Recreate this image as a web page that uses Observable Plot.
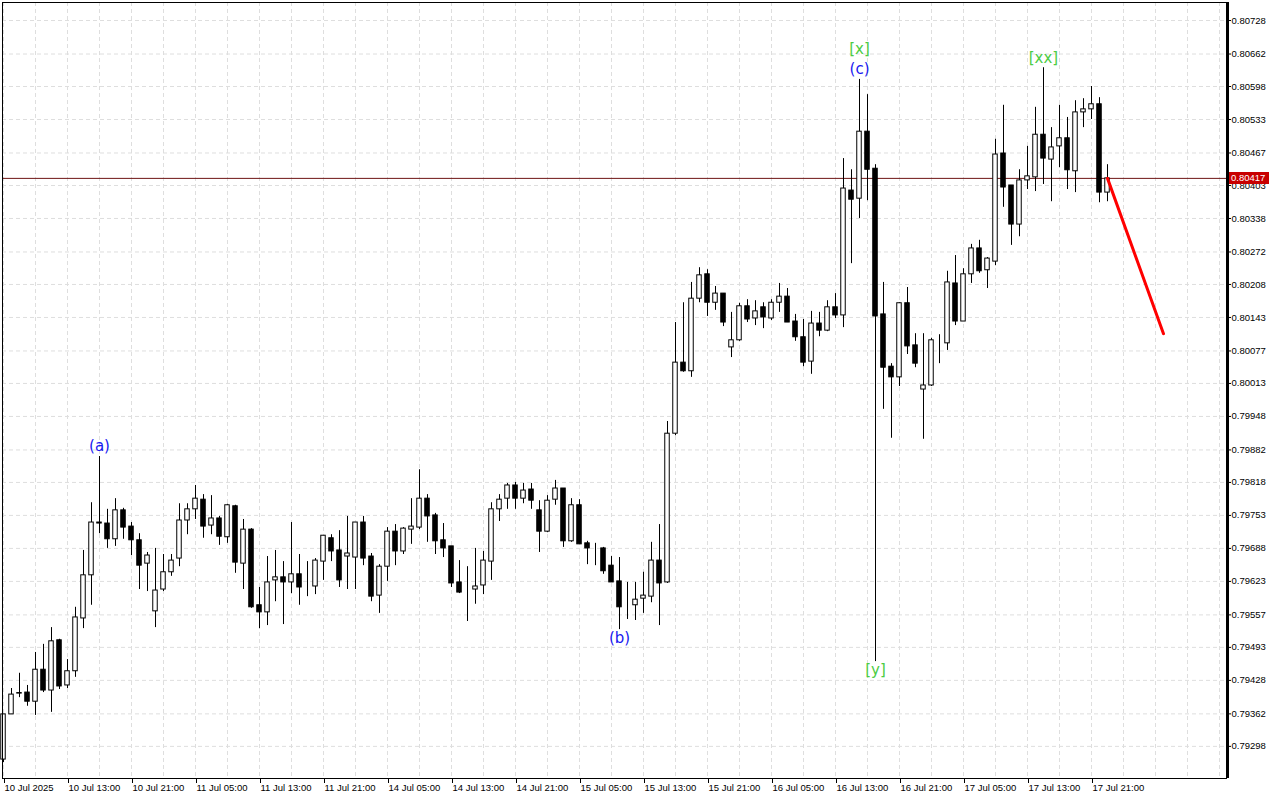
<!DOCTYPE html>
<html>
<head>
<meta charset="utf-8">
<script src="https://cdn.jsdelivr.net/npm/d3@7"></script>
<script src="https://cdn.jsdelivr.net/npm/@observablehq/plot@0.6"></script>
<style>
  html, body { margin: 0; padding: 0; background: #ffffff; }
  #chart { width: 1280px; height: 800px; overflow: hidden; }
</style>
</head>
<body>
<div id="chart"></div>
<script>
// ---------- DATA (hourly bars) ----------
const open = [
0.79272,0.79361,0.79403,0.79404,0.79386,0.79449,0.79408,0.79507,0.79418,0.79446,
0.79550,0.79635,0.79739,0.79737,0.79706,0.79763,0.79731,0.79704,0.79658,0.79564,
0.79607,0.79641,0.79668,0.79743,0.79765,0.79784,0.79733,0.79747,0.79710,0.79771,
0.79658,0.79725,0.79576,0.79562,0.79625,0.79631,0.79621,0.79637,0.79613,0.79613,
0.79662,0.79708,0.79684,0.79672,0.79670,0.79739,0.79672,0.79595,0.79652,0.79721,
0.79682,0.79725,0.79729,0.79786,0.79753,0.79704,0.79692,0.79621,0.79603,0.79607,
0.79615,0.79662,0.79765,0.79786,0.79812,0.79786,0.79804,0.79763,0.79721,0.79784,
0.79806,0.79702,0.79773,0.79698,0.79688,0.79688,0.79654,0.79623,0.79576,0.79576,
0.79589,0.79593,0.79664,0.79621,0.79914,0.80054,0.80037,0.80180,0.80228,0.80172,
0.80190,0.80084,0.80098,0.80165,0.80141,0.80163,0.80141,0.80172,0.80184,0.80135,
0.80104,0.80056,0.80131,0.80117,0.80163,0.80147,0.80393,0.80377,0.80509,0.80436,
0.80149,0.80046,0.80025,0.80171,0.80088,0.80001,0.80009,0.80090,0.80092,0.80210,
0.80135,0.80228,0.80279,0.80236,0.80253,0.80466,0.80403,0.80326,0.80413,0.80419,
0.80503,0.80454,0.80480,0.80496,0.80431,0.80547,0.80553,0.80563,0.80389
];
const high = [
0.79361,0.79412,0.79442,0.79418,0.79483,0.79499,0.79532,0.79509,0.79469,0.79572,
0.79684,0.79778,0.79869,0.79765,0.79786,0.79767,0.79739,0.79717,0.79680,0.79688,
0.79676,0.79676,0.79776,0.79776,0.79812,0.79794,0.79792,0.79751,0.79775,0.79773,
0.79745,0.79727,0.79611,0.79672,0.79684,0.79662,0.79739,0.79676,0.79662,0.79668,
0.79713,0.79715,0.79723,0.79751,0.79739,0.79751,0.79678,0.79656,0.79729,0.79735,
0.79729,0.79786,0.79843,0.79794,0.79757,0.79737,0.79692,0.79664,0.79652,0.79688,
0.79682,0.79778,0.79794,0.79816,0.79818,0.79816,0.79816,0.79782,0.79792,0.79822,
0.79806,0.79786,0.79784,0.79702,0.79698,0.79690,0.79672,0.79670,0.79621,0.79621,
0.79641,0.79700,0.79735,0.79938,0.80133,0.80172,0.80212,0.80241,0.80237,0.80204,
0.80190,0.80153,0.80171,0.80178,0.80176,0.80172,0.80178,0.80210,0.80200,0.80149,
0.80139,0.80155,0.80153,0.80176,0.80190,0.80456,0.80434,0.80612,0.80582,0.80444,
0.80212,0.80052,0.80172,0.80202,0.80111,0.80111,0.80102,0.80109,0.80234,0.80265,
0.80239,0.80287,0.80295,0.80261,0.80494,0.80561,0.80403,0.80434,0.80480,0.80557,
0.80635,0.80517,0.80561,0.80537,0.80570,0.80574,0.80598,0.80576,0.80444
];
const low = [
0.79266,0.79361,0.79394,0.79377,0.79359,0.79404,0.79365,0.79410,0.79412,0.79434,
0.79530,0.79576,0.79717,0.79688,0.79692,0.79706,0.79674,0.79607,0.79603,0.79532,
0.79603,0.79633,0.79652,0.79715,0.79745,0.79708,0.79715,0.79694,0.79698,0.79639,
0.79607,0.79570,0.79530,0.79536,0.79583,0.79538,0.79599,0.79576,0.79593,0.79597,
0.79625,0.79662,0.79611,0.79607,0.79607,0.79654,0.79583,0.79560,0.79623,0.79654,
0.79676,0.79696,0.79725,0.79700,0.79676,0.79670,0.79611,0.79599,0.79544,0.79578,
0.79597,0.79625,0.79741,0.79765,0.79765,0.79776,0.79765,0.79680,0.79719,0.79773,
0.79690,0.79700,0.79696,0.79656,0.79654,0.79637,0.79621,0.79528,0.79548,0.79546,
0.79560,0.79581,0.79536,0.79619,0.79910,0.80035,0.80025,0.80172,0.80145,0.80157,
0.80125,0.80064,0.80096,0.80133,0.80127,0.80121,0.80137,0.80153,0.80133,0.80096,
0.80046,0.80031,0.80105,0.80115,0.80141,0.80123,0.80249,0.80338,0.80373,0.79465,
0.79962,0.79905,0.80007,0.80070,0.80044,0.79903,0.80007,0.80052,0.80078,0.80127,
0.80135,0.80210,0.80230,0.80200,0.80245,0.80360,0.80285,0.80302,0.80395,0.80391,
0.80405,0.80371,0.80438,0.80395,0.80389,0.80517,0.80533,0.80369,0.80371
];
const close = [
0.79361,0.79400,0.79402,0.79386,0.79449,0.79408,0.79505,0.79416,0.79446,0.79552,
0.79635,0.79739,0.79737,0.79706,0.79763,0.79729,0.79704,0.79654,0.79674,0.79605,
0.79641,0.79664,0.79743,0.79765,0.79786,0.79731,0.79747,0.79711,0.79773,0.79660,
0.79725,0.79572,0.79562,0.79621,0.79631,0.79621,0.79637,0.79611,0.79613,0.79664,
0.79713,0.79682,0.79625,0.79678,0.79739,0.79668,0.79593,0.79652,0.79721,0.79682,
0.79727,0.79731,0.79786,0.79751,0.79702,0.79688,0.79619,0.79601,0.79603,0.79613,
0.79664,0.79765,0.79784,0.79812,0.79786,0.79802,0.79782,0.79721,0.79782,0.79806,
0.79702,0.79773,0.79696,0.79688,0.79688,0.79643,0.79621,0.79572,0.79576,0.79587,
0.79595,0.79664,0.79619,0.79914,0.80054,0.80037,0.80180,0.80226,0.80172,0.80190,
0.80133,0.80098,0.80165,0.80139,0.80155,0.80143,0.80172,0.80184,0.80133,0.80104,
0.80054,0.80131,0.80117,0.80163,0.80147,0.80397,0.80375,0.80509,0.80434,0.80145,
0.80044,0.80025,0.80171,0.80086,0.80052,0.80009,0.80098,0.80090,0.80212,0.80135,
0.80228,0.80279,0.80234,0.80259,0.80464,0.80399,0.80326,0.80413,0.80421,0.80503,
0.80456,0.80478,0.80496,0.80433,0.80547,0.80553,0.80563,0.80389,0.80417
];

// time-axis labels, one every 8 bars (bar index of each label = 8*k)
const timeLabels = [
  "10 Jul 2025","10 Jul 13:00","10 Jul 21:00","11 Jul 05:00","11 Jul 13:00","11 Jul 21:00",
  "14 Jul 05:00","14 Jul 13:00","14 Jul 21:00","15 Jul 05:00","15 Jul 13:00","15 Jul 21:00",
  "16 Jul 05:00","16 Jul 13:00","16 Jul 21:00","17 Jul 05:00","17 Jul 13:00","17 Jul 21:00"
];
const labelStep = 8;
const gridStep = 4;

// price-axis tick labels
const priceTicks = [
  0.80728,0.80662,0.80598,0.80533,0.80467,0.80403,0.80338,0.80272,0.80208,0.80143,0.80077,0.80013,
  0.79948,0.79882,0.79818,0.79753,0.79688,0.79623,0.79557,0.79493,0.79428,0.79362,0.79298
];

const currentPrice = 0.80417;

// forecast line (bar index, price)
const forecastBars = [138, 145];
const forecastPrices = [0.80417, 0.80111];

// wave labels
const waveLabels = ["(a)", "(b)", "(c)", "[x]", "[y]", "[xx]"];
const waveBars   = [12, 77, 107, 107, 109, 130];
const waveSide   = ["high", "low", "high", "high2", "low", "high"];
const waveDegree = ["minor", "minor", "minor", "major", "major", "major"];

// ---------- BUILD ----------
const bars = open.map((o, i) => ({i, open: o, high: high[i], low: low[i], close: close[i]}));
const waves = waveLabels.map((t, k) => {
  const b = bars[waveBars[k]];
  return {text: t, i: waveBars[k], price: waveSide[k] === "low" ? b.low : b.high, side: waveSide[k], degree: waveDegree[k]};
});
const forecast = forecastBars.map((b, k) => ({i: b, price: forecastPrices[k]}));
const xTicks = timeLabels.map((_, k) => k * labelStep);
const gridX = d3.range(0, 153, gridStep);

const blue = "#1818f0";
const green = "#4ccc44";
const gridColor = "#dedede";
const font = "Liberation Sans, Arial, sans-serif";

const chart = Plot.plot({
  width: 1280,
  height: 800,
  marginTop: 2,
  marginLeft: 2,
  marginRight: 54,
  marginBottom: 22,
  style: {background: "#ffffff", fontFamily: font, fontSize: "9px", color: "#000"},
  x: {type: "linear", domain: [-0.125, 152.875]},
  y: {domain: [0.792347, 0.807635]},
  marks: [
    Plot.gridY(priceTicks, {stroke: gridColor, strokeOpacity: 1, strokeDasharray: "4,3"}),
    Plot.gridX(gridX, {stroke: gridColor, strokeOpacity: 1, strokeDasharray: "4,3"}),
    Plot.ruleY([currentPrice], {stroke: "#6e1414", strokeWidth: 1}),
    Plot.ruleX(bars, {x: "i", y1: "low", y2: "high", stroke: "#000", strokeWidth: 1}),
    Plot.rect(bars, {
      x1: d => d.i - 0.28, x2: d => d.i + 0.28,
      y1: "open", y2: "close",
      fill: d => d.close > d.open ? "#ffffff" : "#000000",
      stroke: "#000", strokeWidth: 1
    }),
    Plot.line(forecast, {x: "i", y: "price", stroke: "#ff0000", strokeWidth: 3}),
    Plot.text(waves.filter(d => d.side === "high"), {
      x: "i", y: "price", text: "text", dy: -10,
      fill: d => d.degree === "minor" ? blue : green,
      fontSize: 15, fontFamily: "DejaVu Sans"
    }),
    Plot.text(waves.filter(d => d.side === "high2"), {
      x: "i", y: "price", text: "text", dy: -30,
      fill: d => d.degree === "minor" ? blue : green,
      fontSize: 15, fontFamily: "DejaVu Sans"
    }),
    Plot.text(waves.filter(d => d.side === "low"), {
      x: "i", y: "price", text: "text", dy: 9,
      fill: d => d.degree === "minor" ? blue : green,
      fontSize: 15, fontFamily: "DejaVu Sans"
    }),
    Plot.axisY({
      anchor: "right", ticks: priceTicks, tickFormat: d => d.toFixed(5),
      tickSize: 4, tickPadding: 1, fontSize: 9.5, label: null
    }),
    Plot.axisX({
      anchor: "bottom", ticks: xTicks, tickFormat: d => timeLabels[d / labelStep],
      tickSize: 5, tickPadding: 1, textAnchor: "start", dx: 1, fontSize: 9.5, label: null
    }),
    Plot.frame({stroke: "#000"}),
    Plot.ruleX([152.875], {stroke: "#000", strokeWidth: 3, dx: 1})
  ]
});

document.getElementById("chart").appendChild(chart);

// current price tag on the price scale, placed with the plot's own y scale
const yPix = chart.scale("y").apply(currentPrice);
const svg = d3.select(chart);
const tag = svg.append("g");
tag.append("rect")
  .attr("x", 1229).attr("y", Math.round(yPix) - 6).attr("width", 40).attr("height", 12)
  .attr("fill", "#c80000");
tag.append("text")
  .attr("x", 1231).attr("y", Math.round(yPix)).attr("dy", "0.35em")
  .attr("text-anchor", "start")
  .style("fill", "#ffffff").style("font-size", "9.5px").style("font-family", font)
  .text(currentPrice.toFixed(5));
</script>
</body>
</html>
